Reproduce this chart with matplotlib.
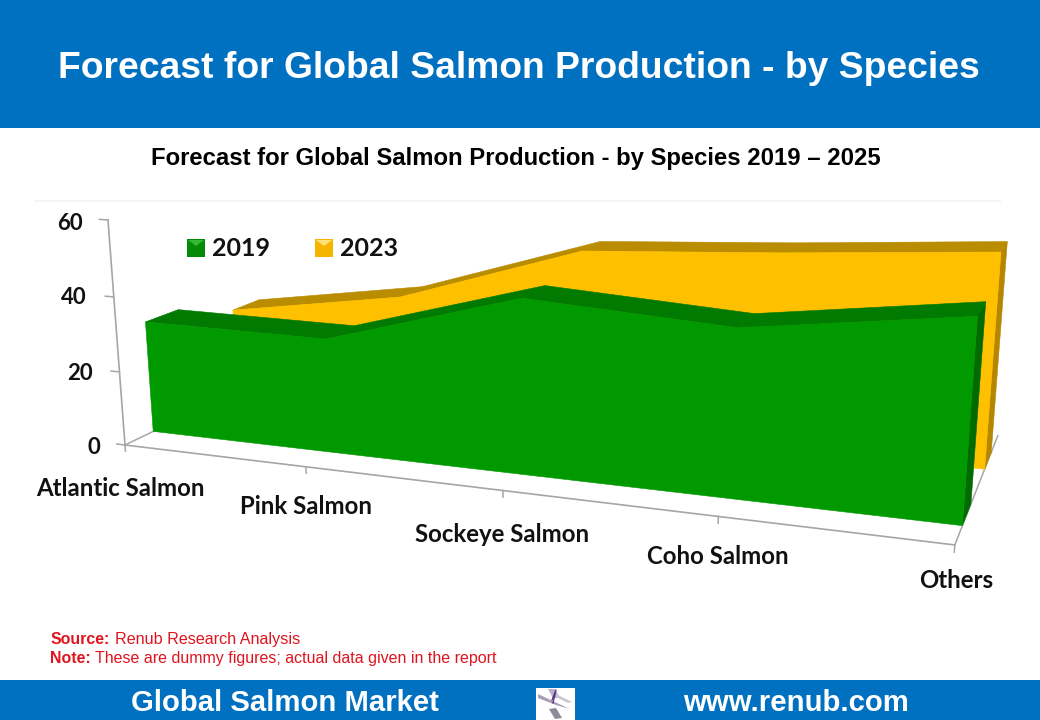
import numpy as np
import matplotlib
matplotlib.use("Agg")
import matplotlib.pyplot as plt
from matplotlib.transforms import Transform
from matplotlib.patches import Patch, Rectangle, Polygon

# ---- data ----
categories = ["Atlantic Salmon", "Pink Salmon", "Sockeye Salmon", "Coho Salmon", "Others"]
values_2019 = [30.5, 30.3, 45.0, 42.0, 49.0]
values_2023 = [24.4, 32.3, 48.8, 51.8, 55.5]
value_ticks = [0, 20, 40, 60]
series_names = ["2019", "2023"]

title = "Forecast for Global Salmon Production - by Species"
subtitle = "Forecast for Global Salmon Production - by Species 2019 \u2013 2025"
footer_left = "Global Salmon Market"
footer_right = "www.renub.com"

# ---- colours ----
BLUE = "#0070C0"
GREEN, GREEN_TOP, GREEN_SIDE = "#009900", "#007A00", "#006B00"
YELLOW, YELLOW_TOP, YELLOW_SIDE = "#FFC000", "#BA8C00", "#B58700"
RED = "#E0141E"
AXIS = "#A6A6A6"
SANS = "Liberation Sans"
LABEL = "Lato"


class ChartProjection(Transform):
    """Perspective camera of the 3-D area chart: (category, value) on a depth plane -> canvas."""
    input_dims = output_dims = 2

    def __init__(self, plane):
        super().__init__()
        self.plane = plane

    def transform_non_affine(self, values):
        values = np.asarray(values, float)
        c, v = values[:, 0], values[:, 1]
        d = self.plane
        w = 1 - 0.0409 * c - 0.000632 * v + 0.18 * d
        x = 125 + 168.4 * c - 0.352 * v + 215.6 * d
        y = 445 + 2.7 * c - 3.89 * v - 13.0 * d
        return np.column_stack([x / w, y / w])


def project(c, v, d):
    c, v = np.broadcast_arrays(np.atleast_1d(c), np.atleast_1d(v))
    return ChartProjection(d).transform(np.column_stack([c, v]))


fig = plt.figure(figsize=(10.4, 7.2), dpi=100, facecolor="white")
ax = fig.add_axes([0, 0, 1, 1])
ax.set_xlim(0, 1040)
ax.set_ylim(720, 0)
ax.set_autoscale_on(False)
ax.axis("off")

# banners
ax.add_patch(Rectangle((0, 0), 1040, 128, fc=BLUE, ec="none"))
ax.add_patch(Rectangle((0, 680), 1040, 40, fc=BLUE, ec="none"))
ax.text(519, 68, title, color="white", fontsize=26.8, fontweight="bold", family=SANS, ha="center", va="center")
ax.text(516, 158, subtitle, color="black", fontsize=17.2, fontweight="bold", family=SANS, ha="center", va="center")
ax.text(285, 703, footer_left, color="white", fontsize=21.1, fontweight="bold", family=SANS, ha="center", va="center")
ax.text(796, 703, footer_right, color="white", fontsize=21.2, fontweight="bold", family=SANS, ha="center", va="center")

# faint line above the chart
ax.plot([35, 1000], [201, 201], color="#F5F5F5", lw=1.5, zorder=0)

# logo block
ax.add_patch(Rectangle((536, 688), 39, 32, fc="white", ec="none", zorder=1.5))
ax.add_patch(Polygon([(538, 694), (557, 703), (570, 709), (556, 705), (538, 698)], fc="#A79FB5", ec="none", zorder=2))
ax.add_patch(Polygon([(549, 709), (556, 708), (562, 718), (555, 719)], fc="#8F8A99", ec="none", zorder=2))
ax.add_patch(Polygon([(548, 689), (555, 689), (560, 698), (553, 698)], fc="#B8B0C6", ec="none", zorder=2))
ax.add_patch(Polygon([(556, 694), (572, 702), (568, 703), (556, 697)], fc="#C9C5D2", ec="none", zorder=2))
ax.plot([552, 556, 553], [700, 690, 703], color="#5B2C83", lw=0.9, zorder=2)

# value axis
zero = ChartProjection(0.0) + ax.transData
n = len(categories)
ax.plot([0, 0], [value_ticks[0], value_ticks[-1]], color=AXIS, lw=1.2, transform=zero, zorder=1)
for t in value_ticks:
    ax.plot([-0.048, 0], [t, t], color=AXIS, lw=1.1, transform=zero, zorder=1)
ytick_pos = {0: (100, 447), 20: (93, 374), 40: (87, 298), 60: (83, 223)}
for t in value_ticks:
    ax.text(*ytick_pos[t], str(t), fontsize=16, fontweight="bold", family=LABEL, ha="right", va="center", color="#111111")

# category axis and floor edges
ax.plot([0, n - 1], [0, 0], color=AXIS, lw=1.2, transform=zero, zorder=1)
for i in range(n):
    ax.plot([i, i], [0, -1.7], color=AXIS, lw=1.1, transform=zero, zorder=1)
for c in (0, n - 1):
    p = np.vstack([project(c, 0, 0.0), project(c, 0, 1.0)])
    ax.plot(p[:, 0], p[:, 1], color=AXIS, lw=1.1, zorder=1)
cat_pos = [(120, 489), (306, 507), (502, 535), (718, 557), (956, 581)]
for name, (x, y) in zip(categories, cat_pos):
    ax.text(x, y, name, fontsize=17.3, fontweight="bold", family=LABEL, ha="center", va="center", color="#111111")


def draw_area(vals, d_front, d_back, face, top, side, z):
    c = np.arange(len(vals), dtype=float)
    v = np.asarray(vals, float)
    # right side wall
    last = c[-1]
    q = np.vstack([project(last, 0, d_front), project(last, v[-1], d_front),
                   project(last, v[-1], d_back), project(last, 0, d_back)])
    ax.fill(q[:, 0], q[:, 1], fc=side, ec=side, lw=0.4, zorder=z)
    # top ribbon
    f = project(c, v, d_front)
    b = project(c, v, d_back)
    for i in range(len(c) - 1):
        q = np.vstack([f[i], f[i + 1], b[i + 1], b[i]])
        ax.fill(q[:, 0], q[:, 1], fc=top, ec=top, lw=0.4, zorder=z)
    # front face
    xs = np.concatenate([c, c[::-1]])
    ys = np.concatenate([v, np.zeros_like(v)])
    ax.fill(xs, ys, fc=face, ec=face, lw=0.4, zorder=z + 0.1, transform=ChartProjection(d_front) + ax.transData)


draw_area(values_2023, 0.65, 0.82, YELLOW, YELLOW_TOP, YELLOW_SIDE, 2)
draw_area(values_2019, 0.15, 0.33, GREEN, GREEN_TOP, GREEN_SIDE, 3)

# legend
handles = [Patch(fc="#058A05", ec="none"), Patch(fc="#F5B400", ec="none")]
leg = ax.legend(handles, series_names, ncol=2, loc="center left", bbox_to_anchor=(187, 249),
                bbox_transform=ax.transData, frameon=False, handlelength=0.72, handleheight=0.7,
                handletextpad=0.28, columnspacing=1.8, borderpad=0, borderaxespad=0,
                prop={"family": LABEL, "weight": "bold", "size": 18})
for t in leg.get_texts():
    t.set_color("#111111")
leg.set_zorder(6)
# bevel highlights on the legend keys
for x0, col in ((187, "#35B935"), (315, "#FFE27A")):
    ax.add_patch(Polygon([(x0 + 1, 240), (x0 + 17, 240), (x0 + 9, 246)], fc=col, ec="none", zorder=7))

# notes
ax.text(51, 644, "Source:", color=RED, fontsize=11.4, fontweight="bold", family=SANS, ha="left", va="baseline")
ax.text(115, 644, "Renub Research Analysis", color=RED, fontsize=11.6, family=SANS, ha="left", va="baseline")
ax.text(50, 663, "Note:", color=RED, fontsize=11.4, fontweight="bold", family=SANS, ha="left", va="baseline")
ax.text(95, 663, "These are dummy figures; actual data given in the report", color=RED, fontsize=11.5, family=SANS, ha="left", va="baseline")

fig.savefig("out.png", dpi=100)
